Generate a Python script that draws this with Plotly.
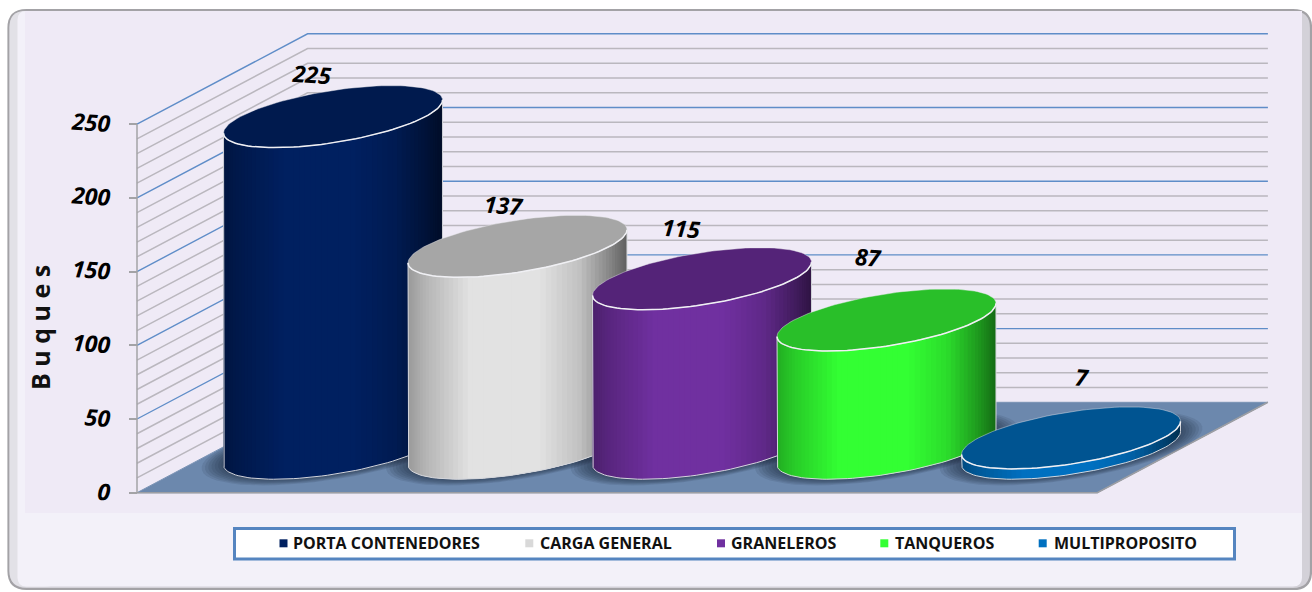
import math
import plotly.graph_objects as go

# ---- data ----
categories = ["PORTA CONTENEDORES", "CARGA GENERAL", "GRANELEROS", "TANQUEROS", "MULTIPROPOSITO"]
values = [225, 137, 115, 87, 7]
body_colors = ["#002060", "#e2e2e2", "#7030a0", "#33ff33", "#0070c0"]
top_colors = ["#001a4e", "#a6a6a6", "#542378", "#29bf29", "#005491"]
swatch_colors = ["#002060", "#d9d9d9", "#7030a0", "#33ff33", "#0070c0"]
y_ticks = [0, 50, 100, 150, 200, 250]
grid_values = [10, 20, 30, 40, 60, 70, 80, 90, 110, 120, 130, 140, 160, 170, 180, 190, 210, 220, 230, 240]
major_values = [50, 100, 150, 200, 250]

# ---- layout constants (pixel geometry of the picture) ----
W, H = 1312, 592
PX_CAT, PX_VAL = 184.5, 1.474
X0_PX, Y0_PX = 333.0, 492.7
def xu(px): return (px - X0_PX) / PX_CAT
def px_(px): return px / W
def py_(py): return 1 - py / H

DX, DY = 170.6 / PX_CAT, 90.4 / PX_VAL
FX0, FX1 = xu(137), xu(1097.3)
RX, DZ = 0.5015, 0.343
BASE_Y = 0.5 * DY - 0.5

# label offsets in px relative to the centre of each top face
label_dx = [-22, -14, -21, -18, 11]
label_dy = [-43, -41, -51, -63, -61]

def hex2rgb(h):
    return tuple(int(h[i:i + 2], 16) for i in (1, 3, 5))

SHADE = [(0, .68), (.08, .80), (.28, 1), (.6, 1), (.78, .86), (.92, .6), (1, .42)]
def shade(u, color):
    for (a, fa), (b, fb) in zip(SHADE, SHADE[1:]):
        if u <= b:
            f = fa + (fb - fa) * (u - a) / (b - a)
            break
    r, g, b_ = hex2rgb(color)
    return f"rgb({int(r*f)},{int(g*f)},{int(b_*f)})"

T0 = math.atan2(DZ * DX, RX)
def ell(i, yc, t, k=1.0):
    return (i + k * (RX * math.cos(t) + DZ * math.sin(t) * DX),
            yc + k * DZ * math.sin(t) * DY)

fig = go.Figure()
def poly(xs, ys, fill, line=None, lw=1.0):
    fig.add_trace(go.Scatter(x=xs, y=ys, mode="lines", fill="toself",
                             fillcolor=fill, line=dict(color=line or "rgba(0,0,0,0)", width=lw if line else 0),
                             hoverinfo="skip", showlegend=False))
def seg(xs, ys, color, lw):
    fig.add_trace(go.Scatter(x=xs, y=ys, mode="lines", line=dict(color=color, width=lw),
                             hoverinfo="skip", showlegend=False))

# floor
poly([FX0, FX1, FX1 + DX, FX0 + DX, FX0], [0, 0, DY, DY, 0], "#6c88ad", "#7a93b5", 1)

# walls' grid lines
def grid(vals, color, lw):
    xs, ys = [], []
    for v in vals:
        xs += [FX0, FX0 + DX, FX1 + DX, None]
        ys += [v, v + DY, v + DY, None]
    seg(xs, ys, color, lw)
grid(grid_values, "#bab7be", 1.5)
grid(major_values, "#5f8dc8", 1.4)
seg([FX0, FX0], [0, 250], "#a3a3a6", 1.5)
seg([FX0, FX1, FX1 + DX], [0, 0, DY], "#9c9ea3", 1.6)

# soft shadows on the floor
for i in range(5):
    for k in (1.20, 1.17, 1.14, 1.11, 1.08, 1.05, 1.02):
        ts = [2 * math.pi * n / 60 for n in range(61)]
        pts = [ell(i, BASE_Y, t, k) for t in ts]
        poly([p[0] for p in pts], [p[1] for p in pts], "rgba(15,25,50,0.10)")

# cylinders: strips painted left to right, each overlapping the next ones so no seams show
N = 60
OVER = 4
for i, (v, body, top) in enumerate(zip(values, body_colors, top_colors)):
    yt = BASE_Y + v
    ts = [T0 + math.pi + math.pi * n / N for n in range(N + 1)]
    low = [ell(i, BASE_Y, t) for t in ts]
    up = [ell(i, yt, t) for t in ts]
    left, right = low[0][0], low[-1][0]
    for n in range(N):
        u = ((low[n][0] + low[n + 1][0]) / 2 - left) / (right - left)
        c = shade(u, body)
        e = min(n + OVER, N)
        lo, hi = low[n:e + 1], up[n:e + 1][::-1]
        poly([p[0] for p in lo + hi] + [lo[0][0]], [p[1] for p in lo + hi] + [lo[0][1]], c)
    # silhouette
    seg([up[0][0]] + [p[0] for p in low] + [up[-1][0]],
        [up[0][1]] + [p[1] for p in low] + [up[-1][1]], "#d4d6dc", 1)
    # top face
    tt = [2 * math.pi * n / 120 for n in range(121)]
    pts = [ell(i, yt, t) for t in tt]
    poly([p[0] for p in pts], [p[1] for p in pts], top, "rgba(235,235,240,0.55)", 0.8)
    seg([p[0] for p in up], [p[1] for p in up], "#f0f0f4", 1.5)

# chrome: frame and panels
def rrect(x0, y0, x1, y1, r):
    X = lambda p: px_(p)
    Y = lambda p: py_(p)
    return (f"M {X(x0+r)} {Y(y0)} L {X(x1-r)} {Y(y0)} Q {X(x1)} {Y(y0)} {X(x1)} {Y(y0+r)} "
            f"L {X(x1)} {Y(y1-r)} Q {X(x1)} {Y(y1)} {X(x1-r)} {Y(y1)} "
            f"L {X(x0+r)} {Y(y1)} Q {X(x0)} {Y(y1)} {X(x0)} {Y(y1-r)} "
            f"L {X(x0)} {Y(y0+r)} Q {X(x0)} {Y(y0)} {X(x0+r)} {Y(y0)} Z")

shapes = [
    dict(type="path", path=rrect(8.5, 10, 1311, 589, 18), xref="paper", yref="paper",
         fillcolor="#d3d1d8", line=dict(color="#a3a2a6", width=2.2), layer="below"),
    dict(type="path", path=rrect(9.5, 11, 60, 587, 16), xref="paper", yref="paper",
         fillcolor="#e2e1e7", line=dict(width=0), layer="below"),
    dict(type="path", path=rrect(17.5, 11, 1302, 586.5, 9), xref="paper", yref="paper",
         fillcolor="#f3f1f9", line=dict(width=0), layer="below"),
    dict(type="rect", x0=px_(25), x1=px_(1302), y0=py_(513), y1=py_(11), xref="paper", yref="paper",
         fillcolor="#efeaf6", line=dict(width=0), layer="below"),
    dict(type="rect", x0=px_(234.5), x1=px_(1234.5), y0=py_(559), y1=py_(528.5), xref="paper", yref="paper",
         fillcolor="#ffffff", line=dict(color="#5585c0", width=3), layer="below"),
]

FONT = "Open Sans"
annotations = []
# data labels
for i, v in enumerate(values):
    annotations.append(dict(x=i + label_dx[i] / PX_CAT, y=BASE_Y + v - label_dy[i] / PX_VAL,
                            xref="x", yref="y", text=f"<b><i>{v}</i></b>", showarrow=False,
                            textangle=4, font=dict(family=FONT, size=23, color="#000000")))
# axis title
annotations.append(dict(x=px_(40), y=py_(328), xref="paper", yref="paper", text="<b>B u q u e s</b>",
                        xanchor="center", yanchor="middle",
                        showarrow=False, textangle=-90, font=dict(family=FONT, size=25, color="#111111")))
# legend
sw_x = [283.5, 529.3, 721, 884.3, 1042.7]
tx_x = [292.3, 538.8, 729.8, 893.5, 1052.8]
LEG_Y = 543.3
for name, col, sx, tx in zip(categories, swatch_colors, sw_x, tx_x):
    shapes.append(dict(type="rect", x0=px_(sx - 4), x1=px_(sx + 4), y0=py_(LEG_Y + 4), y1=py_(LEG_Y - 4),
                       xref="paper", yref="paper", fillcolor=col, line=dict(width=0), layer="below"))
    annotations.append(dict(x=px_(tx), y=py_(LEG_Y), xref="paper", yref="paper", xanchor="left", yanchor="middle",
                            text=f"<b>{name}</b>", showarrow=False, borderpad=0,
                            font=dict(family=FONT, size=16, color="#111111")))

fig.update_layout(
    width=W, height=H, margin=dict(l=0, r=0, t=0, b=0), autosize=False,
    paper_bgcolor="#ffffff", plot_bgcolor="rgba(0,0,0,0)", showlegend=False,
    shapes=shapes, annotations=annotations,
    xaxis=dict(visible=False, range=[xu(0), xu(W)], fixedrange=True),
    yaxis=dict(range=[(Y0_PX - H) / PX_VAL, Y0_PX / PX_VAL], anchor="free", position=137 / W, side="left",
               tickvals=y_ticks, ticktext=[str(t) for t in y_ticks], ticks="outside", ticklen=8, tickwidth=2,
               tickcolor="#a3a3a6", showgrid=False, zeroline=False, showline=False, tickangle=4,
               ticklabelstandoff=14, automargin=False, fixedrange=True,
               tickfont=dict(family=FONT, size=23, color="#000000", weight="bold", style="italic")),
)

fig.write_html("out.html", config=dict(displayModeBar=False),
               post_script="document.body.style.margin='0';document.body.style.overflow='hidden';")
